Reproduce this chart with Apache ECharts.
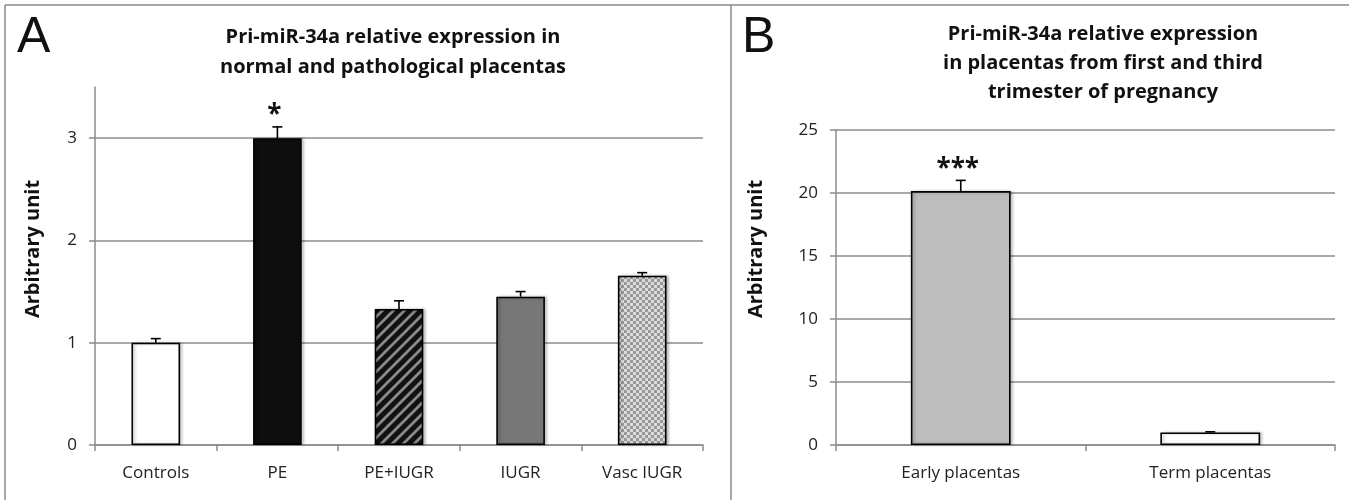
<!DOCTYPE html>
<html>
<head>
<meta charset="utf-8">
<script src="https://cdn.jsdelivr.net/npm/echarts@6/dist/echarts.min.js"></script>
<style>
html,body{margin:0;padding:0;background:#fff;}
#chart{width:1349px;height:500px;}
</style>
</head>
<body>
<div id="chart"></div>
<script>
// ---------- data ----------
const categoriesA = ['Controls', 'PE', 'PE+IUGR', 'IUGR', 'Vasc IUGR'];
const valuesA = [1.0, 3.0, 1.33, 1.45, 1.655];
const errorsA = [0.04, 0.11, 0.08, 0.05, 0.03];
const sigA = ['', '*', '', '', ''];
const ticksA = [0, 1, 2, 3];

const categoriesB = ['Early placentas', 'Term placentas'];
const valuesB = [20.15, 1.0];
const errorsB = [0.85, 0.05];
const sigB = ['***', ''];
const ticksB = [0, 5, 10, 15, 20, 25];

const titleA = 'Pri-miR-34a relative expression in\nnormal and pathological placentas';
const titleB = 'Pri-miR-34a relative expression\nin placentas from first and third\ntrimester of pregnancy';
const yNameA = 'Arbitrary unit';
const yNameB = 'Arbitrary unit';
const panelA = 'A';
const panelB = 'B';

// ---------- patterns ----------
function stripePattern() {
  const c = document.createElement('canvas');
  const s = 11;
  c.width = s; c.height = s;
  const g = c.getContext('2d');
  g.fillStyle = '#111';
  g.fillRect(0, 0, s, s);
  g.strokeStyle = '#8a8a8a';
  g.lineWidth = 2.8;
  g.beginPath();
  for (let k = -1; k <= 1; k++) {
    g.moveTo(k * s - 1, s + 1);
    g.lineTo(k * s + s + 1, -1);
  }
  g.stroke();
  return c;
}
function checkPattern() {
  const c = document.createElement('canvas');
  const s = 3;
  c.width = s * 2; c.height = s * 2;
  const g = c.getContext('2d');
  g.fillStyle = '#dcdcdc';
  g.fillRect(0, 0, s * 2, s * 2);
  g.fillStyle = '#999999';
  g.fillRect(0, 0, s, s);
  g.fillRect(s, s, s, s);
  return c;
}
const fillsA = [
  '#ffffff',
  '#0e0e0e',
  { image: stripePattern(), repeat: 'repeat' },
  '#777777',
  { image: checkPattern(), repeat: 'repeat' }
];
const fillsB = ['#bdbdbd', '#ffffff'];

const FONT = '"Open Sans", "Noto Sans", sans-serif';
const GRID_COLOR = '#8c8c8c';

function errorRender(sig) {
  return function (params, api) {
    const i = api.value(0);
    const p0 = api.coord([i, api.value(1)]);
    const p1 = api.coord([i, api.value(2)]);
    const cap = 5;
    const children = [
      { type: 'line', shape: { x1: p0[0], y1: p0[1], x2: p1[0], y2: p1[1] },
        style: { stroke: '#000', lineWidth: 1.6 } },
      { type: 'line', shape: { x1: p1[0] - cap, y1: p1[1], x2: p1[0] + cap, y2: p1[1] },
        style: { stroke: '#000', lineWidth: 1.6 } }
    ];
    const t = sig[params.dataIndex];
    if (t) {
      children.push({
        type: 'text',
        style: {
          text: t, x: p1[0] - 3, y: p1[1] + 2,
          textAlign: 'center', textVerticalAlign: 'bottom',
          font: 'bold 26px ' + FONT, fill: '#111', letterSpacing: 1
        }
      });
    }
    return { type: 'group', children: children };
  };
}

function barData(values, fills) {
  return values.map((v, i) => ({
    value: v,
    itemStyle: { color: fills[i] }
  }));
}
function errData(values, errs) {
  return values.map((v, i) => [i, v, v + errs[i]]);
}

const axisLabelStyle = { fontFamily: FONT, fontSize: 17, color: '#222' };
const nameFont = 'bold 20px ' + FONT;

const option = {
  animation: false,
  backgroundColor: '#fff',
  title: [
    { text: titleA, left: 388, top: 17, textAlign: 'center',
      textStyle: { fontFamily: FONT, fontWeight: 'bold', fontSize: 20, lineHeight: 30, color: '#111' } },
    { text: titleB, left: 1098, top: 15, textAlign: 'center',
      textStyle: { fontFamily: FONT, fontWeight: 'bold', fontSize: 20, lineHeight: 29, color: '#111' } }
  ],
  graphic: [
    { type: 'line', shape: { x1: 5, y1: 5, x2: 1349, y2: 5 }, style: { stroke: '#8a8a8a', lineWidth: 1.5 } },
    { type: 'line', shape: { x1: 5, y1: 5, x2: 5, y2: 500 }, style: { stroke: '#8a8a8a', lineWidth: 1.5 } },
    { type: 'line', shape: { x1: 731, y1: 5, x2: 731, y2: 500 }, style: { stroke: '#8a8a8a', lineWidth: 1.5 } },
    { type: 'text', left: 17, top: 13, style: { text: panelA, font: '50px "Liberation Sans", Arial, sans-serif', fill: '#111' } },
    { type: 'text', left: 742, top: 13, style: { text: panelB, font: '50px "Liberation Sans", Arial, sans-serif', fill: '#111' } },
    { type: 'text', x: 33, y: 249, rotation: Math.PI / 2,
      style: { text: yNameA, font: nameFont, fill: '#111', textAlign: 'center', textVerticalAlign: 'middle' } },
    { type: 'text', x: 756, y: 249, rotation: Math.PI / 2,
      style: { text: yNameB, font: nameFont, fill: '#111', textAlign: 'center', textVerticalAlign: 'middle' } }
  ],
  grid: [
    { left: 95, right: 646, top: 87, bottom: 55 },
    { left: 836, right: 14, top: 130, bottom: 55 }
  ],
  xAxis: [
    { type: 'category', gridIndex: 0, data: categoriesA,
      axisLine: { lineStyle: { color: GRID_COLOR, width: 1.5 } },
      axisTick: { show: true, length: 6, lineStyle: { color: GRID_COLOR, width: 1.5 } },
      axisLabel: Object.assign({ margin: 20 }, axisLabelStyle) },
    { type: 'category', gridIndex: 1, data: categoriesB,
      axisLine: { lineStyle: { color: GRID_COLOR, width: 1.5 } },
      axisTick: { show: true, length: 6, lineStyle: { color: GRID_COLOR, width: 1.5 } },
      axisLabel: Object.assign({ margin: 20 }, axisLabelStyle) }
  ],
  yAxis: [
    { type: 'value', gridIndex: 0, min: 0, max: 3.5, interval: 1,
      axisLine: { show: true, lineStyle: { color: GRID_COLOR, width: 1.5 } },
      axisTick: { show: true, length: 6, lineStyle: { color: GRID_COLOR, width: 1.5 } },
      axisLabel: Object.assign({ margin: 18, showMaxLabel: false,
        formatter: v => (ticksA.indexOf(v) >= 0 ? String(v) : '') }, axisLabelStyle),
      splitLine: { show: true, lineStyle: { color: [GRID_COLOR, GRID_COLOR, GRID_COLOR, GRID_COLOR, 'rgba(0,0,0,0)'], width: 1.5 } } },
    { type: 'value', gridIndex: 1, min: 0, max: 25, interval: 5,
      axisLine: { show: true, lineStyle: { color: GRID_COLOR, width: 1.5 } },
      axisTick: { show: true, length: 6, lineStyle: { color: GRID_COLOR, width: 1.5 } },
      axisLabel: Object.assign({ margin: 18,
        formatter: v => (ticksB.indexOf(v) >= 0 ? String(v) : '') }, axisLabelStyle),
      splitLine: { show: true, lineStyle: { color: GRID_COLOR, width: 1.5 } } }
  ],
  series: [
    { type: 'bar', xAxisIndex: 0, yAxisIndex: 0, barWidth: '40%',
      data: barData(valuesA, fillsA),
      itemStyle: { borderColor: '#000', borderWidth: 1.6,
        shadowColor: 'rgba(0,0,0,0.25)', shadowBlur: 3, shadowOffsetX: 2, shadowOffsetY: 0 } },
    { type: 'custom', xAxisIndex: 0, yAxisIndex: 0, z: 5,
      renderItem: errorRender(sigA), encode: { x: 0, y: [1, 2] },
      data: errData(valuesA, errorsA) },
    { type: 'bar', xAxisIndex: 1, yAxisIndex: 1, barWidth: '40%',
      data: barData(valuesB, fillsB),
      itemStyle: { borderColor: '#000', borderWidth: 1.6,
        shadowColor: 'rgba(0,0,0,0.25)', shadowBlur: 3, shadowOffsetX: 2, shadowOffsetY: 0 } },
    { type: 'custom', xAxisIndex: 1, yAxisIndex: 1, z: 5,
      renderItem: errorRender(sigB), encode: { x: 0, y: [1, 2] },
      data: errData(valuesB, errorsB) }
  ]
};

const chart = echarts.init(document.getElementById('chart'), null, { renderer: 'canvas' });
chart.setOption(option);
</script>
</body>
</html>
